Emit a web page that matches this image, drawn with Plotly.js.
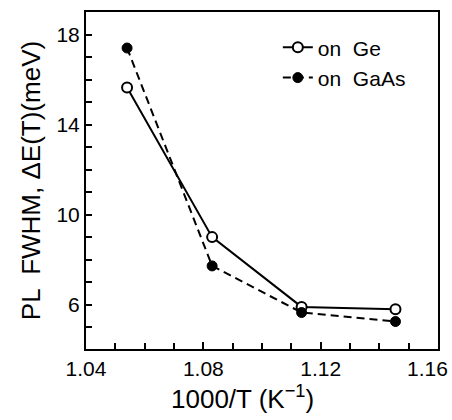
<!DOCTYPE html>
<html>
<head>
<meta charset="utf-8">
<script src="https://cdn.plot.ly/plotly-3.0.1.min.js"></script>
<style>
html, body { margin: 0; padding: 0; background: #fff; }
#chart { width: 452px; height: 420px; }
</style>
</head>
<body>
<div id="chart"></div>
<script>
// Data
const invT = [1.054, 1.083, 1.1135, 1.1455];
const fwhmGe = [15.65, 9.0, 5.9, 5.8];
const fwhmGaAs = [17.4, 7.72, 5.65, 5.25];
const seriesNames = ['on  Ge', 'on  GaAs'];
const xTickVals = [1.04, 1.08, 1.12, 1.16];
const xTickText = ['1.04', '1.08', '1.12', '1.16'];
const yTickVals = [6, 10, 14, 18];
const yTickText = ['6', '10', '14', '18'];

const FONT = 'Liberation Sans, Arial, sans-serif';
const last = xTickText.length - 1;
// the last label sits flush against the right edge, so it is drawn as an annotation at its tick
const axisTickText = xTickText.map((t, i) => (i === last ? '' : t));

const traces = [
  {
    x: invT, y: fwhmGe, name: seriesNames[0], type: 'scatter', mode: 'lines+markers',
    line: { color: '#000', width: 2, dash: 'solid' },
    marker: { symbol: 'circle', size: 10, color: '#fff', line: { color: '#000', width: 2 } }
  },
  {
    x: invT, y: fwhmGaAs, name: seriesNames[1], type: 'scatter', mode: 'lines+markers',
    line: { color: '#000', width: 2, dash: '8px,5px' },
    marker: { symbol: 'circle', size: 10, color: '#000', line: { color: '#000', width: 1 } }
  }
];

const layout = {
  width: 452, height: 420,
  margin: { l: 86, r: 14, t: 12, b: 71 },
  paper_bgcolor: '#fff', plot_bgcolor: '#fff',
  font: { family: FONT, color: '#000', size: 20 },
  showlegend: true,
  legend: {
    x: 0.545, y: 0.955, xanchor: 'left', yanchor: 'top',
    bgcolor: 'rgba(0,0,0,0)', borderwidth: 0,
    font: { family: FONT, size: 21, color: '#000' },
    tracegroupgap: 0
  },
  xaxis: {
    range: [1.04, 1.16],
    tickmode: 'array', tickvals: xTickVals, ticktext: axisTickText,
    ticks: 'inside', ticklen: 7, tickwidth: 2, tickcolor: '#000',
    minor: { dtick: 0.01, tick0: 1.04, ticks: 'inside', ticklen: 6, tickwidth: 2, tickcolor: '#000', showgrid: false },
    showline: true, linewidth: 2, linecolor: '#000', mirror: true,
    showgrid: false, zeroline: false,
    tickfont: { family: FONT, size: 21, color: '#000' }
  },
  yaxis: {
    range: [4.03, 19],
    tickmode: 'array', tickvals: yTickVals, ticktext: yTickText,
    ticks: 'inside', ticklen: 6, tickwidth: 2, tickcolor: '#000',
    minor: { dtick: 1, tick0: 4, ticks: 'inside', ticklen: 6, tickwidth: 2, tickcolor: '#000', showgrid: false },
    showline: true, linewidth: 2, linecolor: '#000', mirror: true,
    showgrid: false, zeroline: false,
    tickfont: { family: FONT, size: 21, color: '#000' },
    title: { text: 'PL  FWHM, ΔE(T)(meV)', font: { family: FONT, size: 26, color: '#000' }, standoff: 8 }
  },
  annotations: [
    {
      text: xTickText[last], xref: 'x', yref: 'paper',
      x: xTickVals[last], y: 0, xanchor: 'right', yanchor: 'top',
      xshift: 12, yshift: -6,
      showarrow: false, font: { family: FONT, size: 21, color: '#000' }
    },
    {
      text: '1000/T (K<sup>−1</sup>)', xref: 'paper', yref: 'paper',
      x: (242 - 86) / 352, y: -0.145, xanchor: 'center', yanchor: 'middle',
      showarrow: false, font: { family: FONT, size: 26, color: '#000' }
    }
  ]
};

Plotly.newPlot('chart', traces, layout, { displayModeBar: false, staticPlot: true });
</script>
</body>
</html>
